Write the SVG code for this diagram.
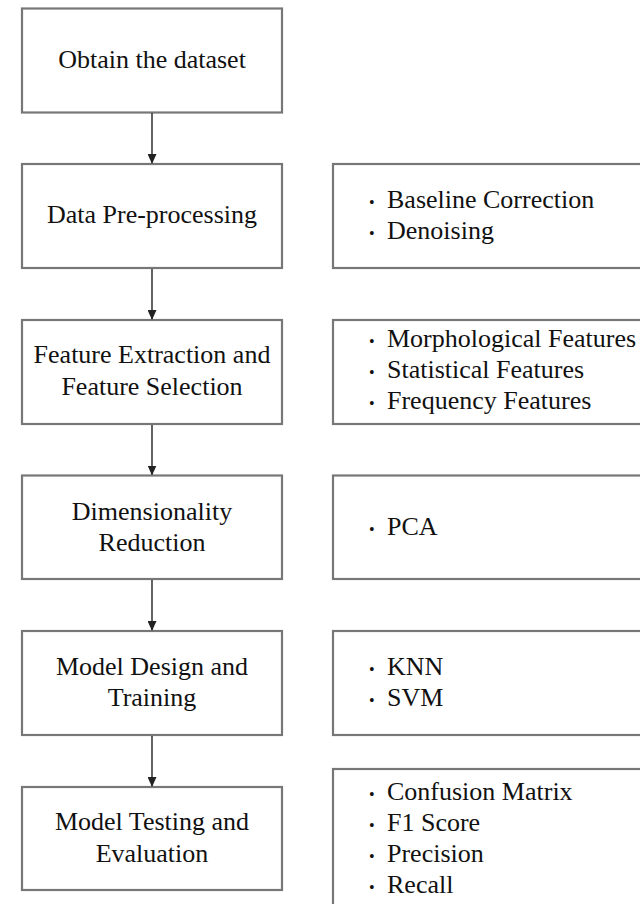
<svg xmlns="http://www.w3.org/2000/svg" width="640" height="904" viewBox="0 0 640 904">
  <style>
    .box { fill: #ffffff; stroke: #777777; stroke-width: 2.2; }
    .lbl { font-family: 'Liberation Serif', 'Times New Roman', 'DejaVu Serif', serif; font-size: 26px; fill: #111111; }
    .mid { text-anchor: middle; }
    .dot { font-size: 16px; }
    .edge { stroke: #222222; stroke-width: 1.4; fill: none; marker-end: url(#arrow); }
  </style>
  <defs>
    <marker id="arrow" markerWidth="10" markerHeight="9" refX="9" refY="4.5" orient="auto" markerUnits="userSpaceOnUse">
      <path d="M0,0 L10,4.5 L0,9 Z" fill="#222222"/>
    </marker>
  </defs>
  <rect width="640" height="904" fill="#ffffff"/>

  <!-- process steps -->
  <g id="step-obtain">
    <rect class="box" x="22" y="8.5" width="260" height="104"/>
    <text class="lbl mid" x="152" y="68">Obtain the dataset</text>
  </g>
  <g id="step-preprocess">
    <rect class="box" x="22" y="164" width="260" height="104"/>
    <text class="lbl mid" x="152" y="223">Data Pre-processing</text>
  </g>
  <g id="step-features">
    <rect class="box" x="22" y="320" width="260" height="104"/>
    <text class="lbl mid" x="152" y="363">Feature Extraction and</text>
    <text class="lbl mid" x="152" y="395">Feature Selection</text>
  </g>
  <g id="step-dimred">
    <rect class="box" x="22" y="475.5" width="260" height="103.5"/>
    <text class="lbl mid" x="152" y="520">Dimensionality</text>
    <text class="lbl mid" x="152" y="551">Reduction</text>
  </g>
  <g id="step-design">
    <rect class="box" x="22" y="631" width="260" height="104"/>
    <text class="lbl mid" x="152" y="675">Model Design and</text>
    <text class="lbl mid" x="152" y="706">Training</text>
  </g>
  <g id="step-testing">
    <rect class="box" x="22" y="787" width="260" height="103"/>
    <text class="lbl mid" x="152" y="830">Model Testing and</text>
    <text class="lbl mid" x="152" y="862">Evaluation</text>
  </g>

  <!-- detail lists -->
  <g id="list-preprocess">
    <rect class="box" x="333" y="164" width="330" height="104"/>
    <text class="lbl" x="369" y="208"><tspan class="dot">•</tspan><tspan x="387">Baseline Correction</tspan></text>
    <text class="lbl" x="369" y="239"><tspan class="dot">•</tspan><tspan x="387">Denoising</tspan></text>
  </g>
  <g id="list-features">
    <rect class="box" x="333" y="320" width="330" height="104"/>
    <text class="lbl" x="369" y="347"><tspan class="dot">•</tspan><tspan x="387">Morphological Features</tspan></text>
    <text class="lbl" x="369" y="378"><tspan class="dot">•</tspan><tspan x="387">Statistical Features</tspan></text>
    <text class="lbl" x="369" y="409"><tspan class="dot">•</tspan><tspan x="387">Frequency Features</tspan></text>
  </g>
  <g id="list-dimred">
    <rect class="box" x="333" y="475.5" width="330" height="103.5"/>
    <text class="lbl" x="369" y="535"><tspan class="dot">•</tspan><tspan x="387">PCA</tspan></text>
  </g>
  <g id="list-design">
    <rect class="box" x="333" y="631" width="330" height="104"/>
    <text class="lbl" x="369" y="675"><tspan class="dot">•</tspan><tspan x="387">KNN</tspan></text>
    <text class="lbl" x="369" y="706"><tspan class="dot">•</tspan><tspan x="387">SVM</tspan></text>
  </g>
  <g id="list-testing">
    <rect class="box" x="333" y="769" width="330" height="150"/>
    <text class="lbl" x="369" y="800"><tspan class="dot">•</tspan><tspan x="387">Confusion Matrix</tspan></text>
    <text class="lbl" x="369" y="831"><tspan class="dot">•</tspan><tspan x="387">F1 Score</tspan></text>
    <text class="lbl" x="369" y="862"><tspan class="dot">•</tspan><tspan x="387">Precision</tspan></text>
    <text class="lbl" x="369" y="893"><tspan class="dot">•</tspan><tspan x="387">Recall</tspan></text>
  </g>

  <!-- flow connectors -->
  <g id="connectors">
    <line class="edge" x1="152" y1="113" x2="152" y2="163"/>
    <line class="edge" x1="152" y1="269" x2="152" y2="319"/>
    <line class="edge" x1="152" y1="425" x2="152" y2="474.5"/>
    <line class="edge" x1="152" y1="580" x2="152" y2="630"/>
    <line class="edge" x1="152" y1="736" x2="152" y2="786"/>
  </g>
</svg>
